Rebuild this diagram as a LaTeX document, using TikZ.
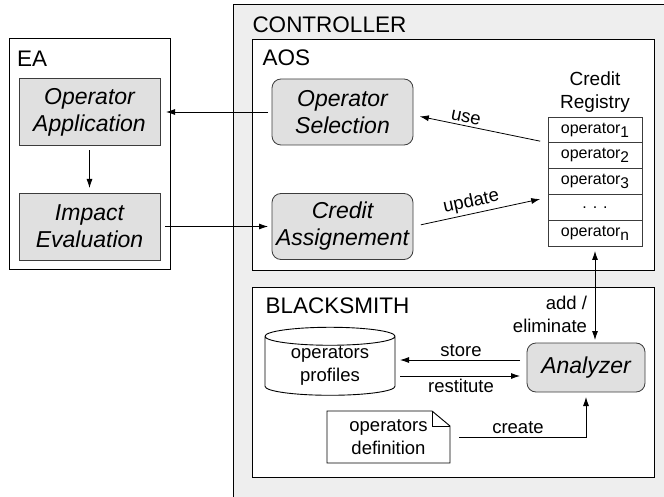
\documentclass[tikz,border=0pt]{standalone}
\usepackage{fontspec}
\setmainfont{Liberation Sans}
\usepackage{tikz}
\usetikzlibrary{positioning}
\usetikzlibrary{shapes.geometric}
\usetikzlibrary{calc}
\usetikzlibrary{arrows.meta}

\definecolor{ctrlgray}{HTML}{EEEEEE}
\definecolor{boxgray}{HTML}{E0E0E0}
\definecolor{edgegray}{HTML}{3C3C3C}

\newcommand{\opsub}[1]{operator\raisebox{-4pt}{\fontsize{15.5}{15.5}\selectfont #1}}

\begin{document}
\begin{tikzpicture}[x=1pt,y=-1pt,
	every node/.style={inner sep=0pt, outer sep=0pt},
	container/.style={draw=black, line width=1pt, fill=white, anchor=north west},
	title/.style={font=\fontsize{22.5}{26}\selectfont, anchor=west},
	task/.style={draw=edgegray, line width=0.8pt, fill=boxgray, font=\fontsize{23}{27}\selectfont\itshape, align=center, minimum width=141pt, minimum height=67pt},
	roundtask/.style={task, rounded corners=9pt},
	lbl/.style={font=\fontsize{18.5}{23}\selectfont, align=center},
	regrow/.style={draw=edgegray, line width=0.8pt, fill=white, minimum width=94pt, minimum height=25.8pt, font=\fontsize{16}{18}\selectfont},
	flow/.style={-{Latex[length=9pt,width=6pt]}, line width=0.8pt},
	]
			\useasboundingbox (0,0) rectangle (664,497);
			% containers
			\node [container, fill=ctrlgray, minimum width=440pt, minimum height=500pt] (ctrl) at (233,5) {};
			\node [title] (ctrltitle) at (252.5,24.5) {CONTROLLER};
			\node [container, minimum width=161pt, minimum height=230pt] (ea) at (9,39) {};
			\node [title] (eatitle) at (17,58.3) {EA};
			\node [container, minimum width=402pt, minimum height=230pt] (aos) at (252,40) {};
			\node [title] (aostitle) at (262.5,58) {AOS};
			\node [container, minimum width=402pt, minimum height=190pt] (bs) at (252,287) {};
			\node [title] (bstitle) at (265.5,305.3) {BLACKSMITH};
			% EA
			\node [task] at (89.5,112) (opapp) {Operator\\Application};
			\node [task] at (89.5,226.5) (impeval) {Impact\\Evaluation};
			% AOS
			\node [roundtask, minimum height=66pt] at (342.5,112) (opsel) {Operator\\Selection};
			\node [roundtask, minimum height=66pt] at (342.5,226.5) (credass) {Credit\\Assignement};
			\node [regrow] at (595,129.9) (reg1) {\opsub{1}};
			\node [regrow, below=0pt of reg1] (reg2) {\opsub{2}};
			\node [regrow, below=0pt of reg2] (reg3) {\opsub{3}};
			\node [regrow, below=0pt of reg3] (reg4) {. . .};
			\node [regrow, below=0pt of reg4] (reg5) {\opsub{n}};
			\node [lbl, font=\fontsize{19}{23}\selectfont, above=5pt of reg1] (regtitle) {Credit\\Registry};
			% BLACKSMITH
			\node [roundtask, font=\fontsize{23}{27}\selectfont\itshape, minimum width=118pt, minimum height=49pt] at (586,367.5) (analyzer) {Analyzer};
			\node [lbl, draw=black, line width=0.9pt, fill=white, cylinder, shape border rotate=90, aspect=0.23, minimum width=130pt, minimum height=68pt] at (330,366) (profiles) {operators\\profiles};
			\node [lbl, minimum width=123pt, minimum height=52pt] at (388.5,437) (opdef) {operators\\definition};
			\draw [line width=0.9pt, fill=white] (opdef.north west) -- ([xshift=-18pt]opdef.north east) -- ([yshift=-15pt]opdef.north east) -- (opdef.south east) -- (opdef.south west) -- cycle;
			\draw [line width=0.9pt] ([xshift=-18pt]opdef.north east) |- ([yshift=-15pt]opdef.north east);
			\node [lbl] at (opdef.center) {operators\\definition};
			% connectors
			\draw [flow, shorten <=4pt, shorten >=6pt] (opsel.west) -- (opapp.east);
			\draw [flow, shorten <=5pt, shorten >=5pt] (opapp.south) -- (impeval.north);
			\draw [flow, shorten <=5pt, shorten >=4pt] (impeval.east) -- (credass.west);
			\draw [flow, shorten <=8pt, shorten >=7pt] (reg1.south west) -- node [lbl, sloped, above=3pt, pos=0.62] {use} ($(opsel.east)+(0,3)$);
			\draw [flow, shorten <=8pt, shorten >=8pt] (credass.east) -- node [lbl, sloped, above=3pt, pos=0.45] {update} ($(reg4.north west)+(0,3)$);
			\draw [{Latex[length=9pt,width=6pt]}-{Latex[length=9pt,width=6pt]}, line width=0.8pt, shorten <=5pt, shorten >=3pt] (reg5.south) -- node [lbl, align=right, left=8pt, pos=0.7] {add /\\eliminate} (reg5.south |- analyzer.north);
			\draw [flow, shorten <=7pt, shorten >=5pt] ([yshift=7.5pt]analyzer.west) -- node [lbl, above=3pt] {store} ([yshift=7.5pt]analyzer.west -| profiles.east);
			\draw [flow, shorten <=5pt, shorten >=7pt] ([yshift=-8.5pt]analyzer.west -| profiles.east) -- node [lbl, below=3pt] {restitute} ([yshift=-8.5pt]analyzer.west);
			\draw [flow, shorten <=9pt, shorten >=5pt] (opdef.east) -| node [lbl, pos=0.25, above=3pt] {create} (analyzer.south);
\end{tikzpicture}
\end{document}
